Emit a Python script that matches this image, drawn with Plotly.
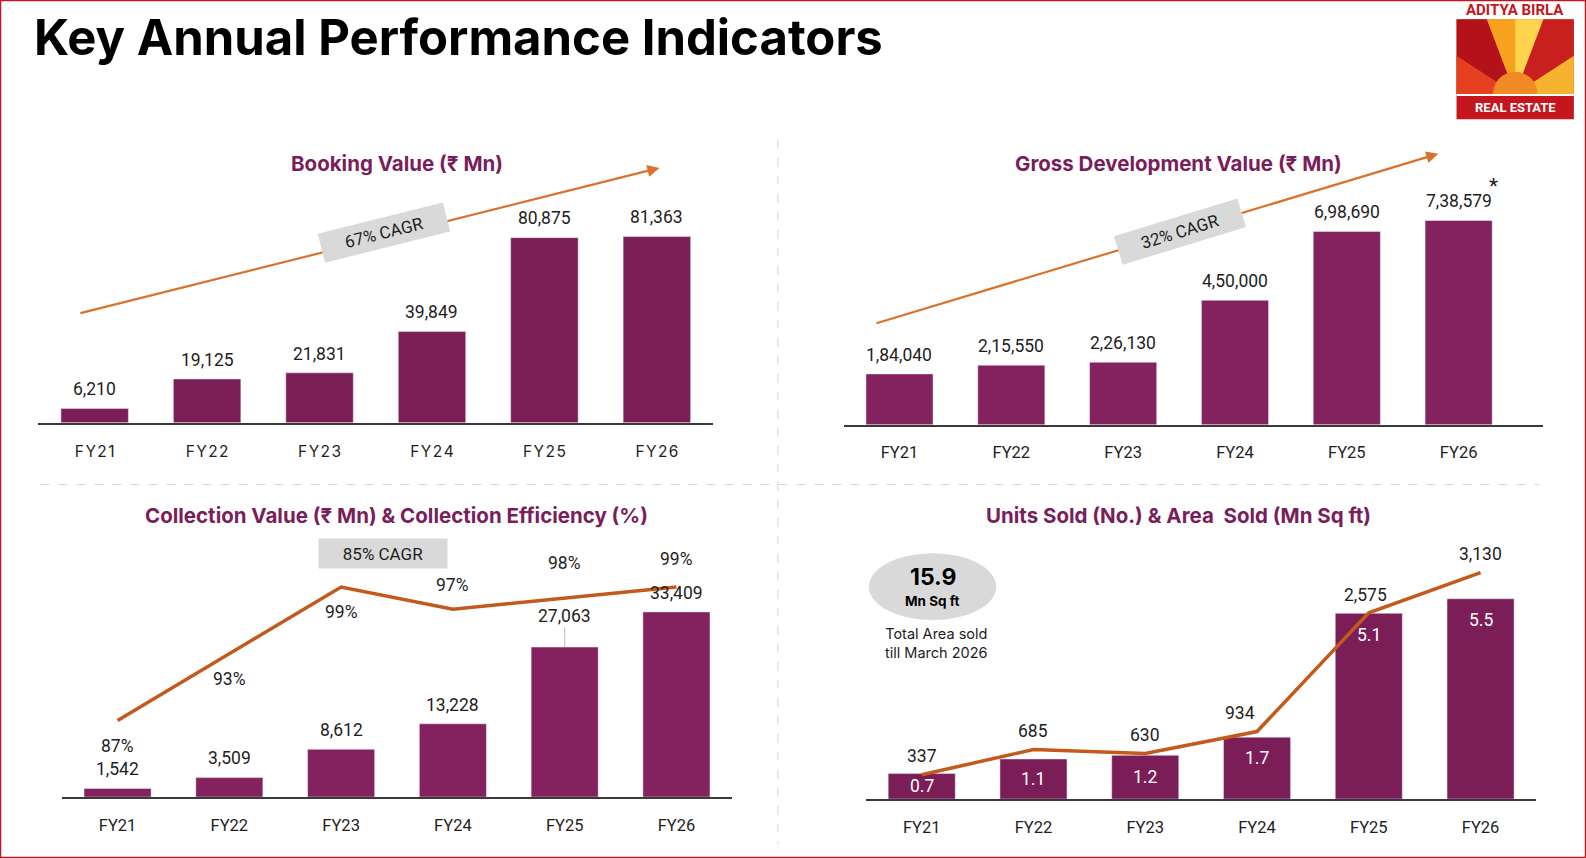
import plotly.graph_objects as go

W, H = 1586, 858
K = 1586 / 1568

years = ['FY21', 'FY22', 'FY23', 'FY24', 'FY25', 'FY26']
booking_value = [6210, 19125, 21831, 39849, 80875, 81363]
gdv = [184040, 215550, 226130, 450000, 698690, 738579]
collection_value = [1542, 3509, 8612, 13228, 27063, 33409]
collection_eff = [87, 93, 99, 97, 98, 99]
units_sold = [337, 685, 630, 934, 2575, 3130]
area_sold = [0.7, 1.1, 1.2, 1.7, 5.1, 5.5]
total_area = 15.9
booking_cagr = 67
gdv_cagr = 32
collection_cagr = 85

PURPLE = '#7B1D57'
PURPLE2 = '#84225F'
ORANGE = '#D9732B'
LINE_ORANGE = '#C4591C'
TXT = '#1E1E1E'
FONT = 'Inter, Noto Sans, sans-serif'
NUM_FONT = 'Roboto, Inter, sans-serif'


def px(x):
    return x * K / W


def py(y):
    return 1 - y * K / H


def inr(n):
    # indian digit grouping, e.g. 7,38,579
    s = str(int(n))
    if len(s) <= 3:
        return s
    head, tail = s[:-3], s[-3:]
    parts = []
    while len(head) > 2:
        parts.insert(0, head[-2:])
        head = head[:-2]
    if head:
        parts.insert(0, head)
    return ','.join(parts) + ',' + tail


def xaxis_def(x0, x1, anchor, rng, ticktext=None, font=NUM_FONT, size=16.5,
              standoff=12):
    d = dict(domain=[px(x0), px(x1)], anchor=anchor, type='category',
             range=rng, showline=True, linecolor='#3a3a3a', linewidth=1.5,
             showgrid=False, zeroline=False, ticks='',
             ticklabelstandoff=standoff, fixedrange=True,
             tickfont=dict(family=font, size=size, color=TXT))
    if ticktext:
        d['tickvals'] = years
        d['ticktext'] = ticktext
    return d


def yaxis_def(y0, y1, anchor, rng, overlaying=None):
    if overlaying:
        return dict(anchor=anchor, range=rng, overlaying=overlaying,
                    visible=False, showgrid=False, zeroline=False,
                    fixedrange=True)
    return dict(domain=[py(y0), py(y1)], anchor=anchor, range=rng,
                visible=False, showgrid=False, zeroline=False, fixedrange=True)


def paper_text(x, y, text, size, color=TXT, family=FONT, **kw):
    d = dict(xref='paper', yref='paper', x=px(x), y=py(y), text=text,
             showarrow=False, xanchor='center', yanchor='middle',
             font=dict(family=family, size=size, color=color))
    d.update(kw)
    return d


fig = go.Figure()

# bars
fig.add_trace(go.Bar(x=years, y=booking_value, xaxis='x', yaxis='y',
                     marker_color=PURPLE, width=0.6))
fig.add_trace(go.Bar(x=years, y=gdv, xaxis='x2', yaxis='y2',
                     marker_color=PURPLE2, width=0.6))
fig.add_trace(go.Bar(x=years, y=collection_value, xaxis='x3', yaxis='y3',
                     marker_color=PURPLE2, width=0.6))
fig.add_trace(go.Bar(x=years, y=area_sold, xaxis='x4', yaxis='y4',
                     marker_color=PURPLE, width=0.6))

# lines
fig.add_trace(go.Scatter(x=years, y=collection_eff, xaxis='x3', yaxis='y5',
                         mode='lines', line=dict(color=LINE_ORANGE, width=3.5)))
fig.add_trace(go.Scatter(x=years, y=units_sold, xaxis='x4', yaxis='y6',
                         mode='lines', line=dict(color=LINE_ORANGE, width=3.5)))

annotations = []
shapes = []


def num_label(xr, yr, x, y, text, yshift, size=17.5, color=TXT, xshift=0):
    annotations.append(dict(xref=xr, yref=yr, x=x, y=y, text=text,
                            showarrow=False, yshift=yshift * K,
                            xshift=xshift * K, yanchor='middle',
                            xanchor='center',
                            font=dict(family=NUM_FONT, size=size, color=color)))


for yr_, v in zip(years, booking_value):
    num_label('x', 'y', yr_, v, inr(v), 19)
for yr_, v in zip(years, gdv):
    num_label('x2', 'y2', yr_, v, inr(v), 19)
num_label('x2', 'y2', years[-1], gdv[-1], '*', 34, size=21, xshift=34)
for yr_, v in zip(years, collection_value):
    if yr_ == 'FY25':
        annotations.append(dict(xref='x3', yref='y3', x=yr_, y=v,
                                text=inr(v), showarrow=True, ax=0, ay=-31 * K,
                                arrowhead=0, arrowwidth=1,
                                arrowcolor='#BDBDBD',
                                font=dict(family=NUM_FONT, size=17.5,
                                          color=TXT)))
    else:
        num_label('x3', 'y3', yr_, v, inr(v), 19)
eff_shift = [-25, -25, -25, 24, 35, 28]
for yr_, v, s in zip(years, collection_eff, eff_shift):
    num_label('x3', 'y5', yr_, v, f'{v}%', s)
unit_xshift = [0, 0, 0, -17, -3, 0]
for yr_, v, xs in zip(years, units_sold, unit_xshift):
    num_label('x4', 'y6', yr_, v, inr(v), 18, xshift=xs)
area_px = 270 / 7.5  # px per Mn sq ft on the bar axis
for yr_, v in zip(years, area_sold):
    num_label('x4', 'y4', yr_, v, f'{v}', -min(21, v * area_px / 2),
              color='white')

# subplot titles
titles = [
    (392, 162, 'Booking Value (₹ Mn)'),
    (1165, 162, 'Gross Development Value (₹ Mn)'),
    (392, 510, 'Collection Value (₹ Mn) & Collection Efficiency (%)'),
    (1165, 510, 'Units Sold (No.) & Area  Sold (Mn Sq ft)'),
]
for x, y, t in titles:
    annotations.append(paper_text(x, y, f'<b>{t}</b>', 20.5, color='#7A1E5B'))

# main title
annotations.append(paper_text(32, 37, '<b>Key Annual Performance Indicators</b>',
                              49, color='black', xanchor='left'))

# cagr arrows
for (hx, hy, tx, ty) in [(652, 166, 78, 310), (1422, 152, 865, 320)]:
    annotations.append(dict(xref='paper', yref='paper', x=px(hx), y=py(hy),
                            ax=(tx - hx) * K, ay=(ty - hy) * K, text='',
                            showarrow=True, arrowhead=2, arrowsize=1.1,
                            arrowwidth=2.2, arrowcolor=ORANGE))
cagr_boxes = [(380, 230, -14, booking_cagr), (1167, 229, -17, gdv_cagr),
              (379, 547, 0, collection_cagr)]
for x, y, ang, c in cagr_boxes:
    annotations.append(paper_text(x, y, f'{c}% CAGR', 17, family=NUM_FONT,
                                  textangle=ang, bgcolor='#D9D9D9',
                                  width=120, height=21, borderpad=4))

# total area bubble
shapes.append(dict(type='circle', xref='paper', yref='paper',
                   x0=px(859), x1=px(985), y0=py(613), y1=py(547),
                   fillcolor='#D9D9D9', line=dict(width=0)))
annotations += [
    paper_text(922, 570, f'<b>{total_area}</b>', 23, color='black'),
    paper_text(922, 594, '<b>Mn Sq ft</b>', 13.5, color='black'),
    paper_text(926, 636, 'Total Area sold<br>till March 2026', 14.5),
]

# separators
shapes.append(dict(type='line', xref='paper', yref='paper',
                   x0=px(769), x1=px(769), y0=py(138), y1=py(835),
                   line=dict(color='#D6D6D6', width=1, dash='dash')))
shapes.append(dict(type='line', xref='paper', yref='paper',
                   x0=px(40), x1=px(1522), y0=py(479), y1=py(479),
                   line=dict(color='#D6D6D6', width=1, dash='dash')))

# slide border
shapes.append(dict(type='rect', xref='paper', yref='paper',
                   x0=0, x1=1, y0=0, y1=1,
                   line=dict(color='#C4161C', width=2.5)))

# logo
LX0, LX1 = 1440, 1556
shapes.append(dict(type='rect', xref='paper', yref='paper',
                   x0=px(LX0), x1=px(LX1), y0=py(93), y1=py(19),
                   fillcolor='#EB6E1F', line=dict(width=0)))
wedges = [
    ('#B3121B', [(1440, 19), (1470, 19), (1498, 93), (1440, 93)]),
    ('#F6A21E', [(1470, 19), (1498, 19), (1498, 93)]),
    ('#FFD34D', [(1498, 19), (1526, 19), (1498, 93)]),
    ('#C8201E', [(1526, 19), (1556, 19), (1556, 93), (1498, 93)]),
    ('#E5401F', [(1440, 55), (1498, 93), (1440, 93)]),
    ('#F5B330', [(1556, 55), (1556, 93), (1498, 93)]),
]
for col, pts in wedges:
    path = 'M ' + ' L '.join(f'{px(a):.5f},{py(b):.5f}' for a, b in pts) + ' Z'
    shapes.append(dict(type='path', xref='paper', yref='paper', path=path,
                       fillcolor=col, line=dict(width=0)))
shapes.append(dict(type='circle', xref='paper', yref='paper',
                   x0=px(1476), x1=px(1520), y0=py(115), y1=py(71),
                   fillcolor='#F08A24', line=dict(width=0)))
shapes.append(dict(type='rect', xref='paper', yref='paper',
                   x0=px(LX0), x1=px(LX1), y0=py(118), y1=py(93),
                   fillcolor='#C4161C', line=dict(width=0)))
shapes.append(dict(type='rect', xref='paper', yref='paper',
                   x0=px(LX0), x1=px(LX1), y0=py(95), y1=py(93),
                   fillcolor='white', line=dict(width=0)))
annotations += [
    paper_text(1498, 10, '<b>ADITYA BIRLA</b>', 15, color='#C4161C',
               family='Roboto, sans-serif'),
    paper_text(1498, 106, '<b>REAL ESTATE</b>', 13, color='white',
               family='Roboto, sans-serif'),
]

spaced = ['\u200a'.join(y) for y in years]

fig.update_layout(
    width=W, height=H,
    margin=dict(l=0, r=0, t=0, b=0),
    paper_bgcolor='white', plot_bgcolor='rgba(0,0,0,0)',
    showlegend=False, barmode='overlay',
    font=dict(family=FONT, color=TXT),
    xaxis=xaxis_def(38, 705, 'y', [-0.5, 5.5], spaced, font=FONT, size=15.5,
                    standoff=14),
    yaxis=yaxis_def(418, 140, 'x', [0, 122850]),
    xaxis2=xaxis_def(834, 1525, 'y2', [-0.5, 5.75]),
    yaxis2=yaxis_def(420, 140, 'x2', [0, 1023800]),
    xaxis3=xaxis_def(61, 724, 'y3', [-0.5, 5.5]),
    yaxis3=yaxis_def(788, 520, 'x3', [0, 48922]),
    xaxis4=xaxis_def(856, 1519, 'y4', [-0.5, 5.5]),
    yaxis4=yaxis_def(790, 520, 'x4', [0, 7.5]),
    yaxis5=yaxis_def(788, 520, 'x3', [80.1, 104.5], overlaying='y3'),
    yaxis6=yaxis_def(790, 520, 'x4', [0, 3776], overlaying='y4'),
    annotations=annotations,
    shapes=shapes,
)

# drop the default page margin so the figure fills the window exactly
fig.write_html('out.html', config={'displayModeBar': False},
               post_script="document.body.style.margin='0';")
